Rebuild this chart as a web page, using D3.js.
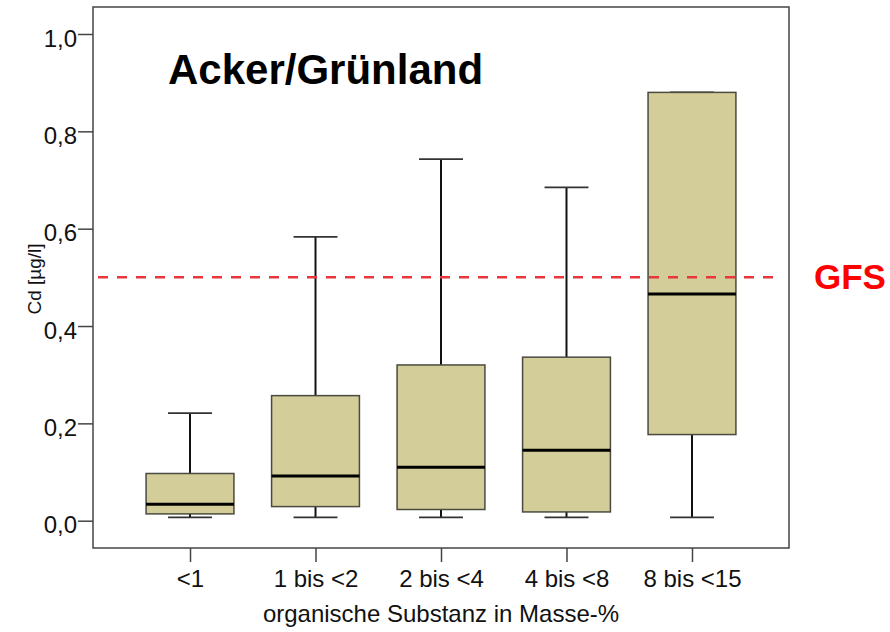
<!DOCTYPE html>
<html lang="de">
<head>
  <meta charset="UTF-8">
  <title>Cd Boxplot</title>
  <script src="https://d3js.org/d3.v7.min.js"></script>
  <style>
    body { margin: 0; background: white; }
    svg text { font-family: "Liberation Sans", Arial, sans-serif; }
    .tick-label { font-size: 24px; fill: #111; }
    .axis-title { font-size: 24px; fill: #111; }
  </style>
</head>
<body>
<div id="chart"></div>
<script>
  // categories and box statistics
  const categories = ["<1", "1 bis <2", "2 bis <4", "4 bis <8", "8 bis <15"];
  const whiskerLow = [0.007, 0.007, 0.007, 0.007, 0.007];
  const q1 = [0.014, 0.029, 0.023, 0.018, 0.177];
  const median = [0.034, 0.092, 0.110, 0.145, 0.466];
  const q3 = [0.097, 0.257, 0.320, 0.336, 0.880];
  const whiskerHigh = [0.221, 0.583, 0.743, 0.685, 0.880];
  const yTicks = [0, 0.2, 0.4, 0.6, 0.8, 1.0];
  const gfsValue = 0.5;

  const width = 890, height = 632;
  const plotLeft = 93, plotRight = 789, plotTop = 7, plotBottom = 548;

  const svg = d3.select("#chart").append("svg")
    .attr("width", width)
    .attr("height", height);

  const x = d3.scalePoint()
    .domain(categories)
    .range([plotLeft, plotRight])
    .padding(0.773);

  const y = d3.scaleLinear()
    .domain([0, 1])
    .range([520.7, 34]);

  const boxW = x.step() * 0.7;
  const capW = boxW / 2;

  const boxes = categories.map((c, i) => ({
    cat: c, lo: whiskerLow[i], q1: q1[i], med: median[i], q3: q3[i], hi: whiskerHigh[i]
  }));

  // frame
  svg.append("rect")
    .attr("x", plotLeft)
    .attr("y", plotTop)
    .attr("width", plotRight - plotLeft)
    .attr("height", plotBottom - plotTop)
    .attr("fill", "none")
    .attr("stroke", "#444")
    .attr("stroke-width", 1.5);

  // y axis
  const yAxis = svg.append("g")
    .attr("transform", `translate(${plotLeft},0)`)
    .call(d3.axisLeft(y).tickValues(yTicks).tickSize(15).tickPadding(1)
      .tickFormat(d => d3.format(".1f")(d).replace(".", ",")));
  yAxis.select(".domain").remove();
  yAxis.selectAll(".tick line").attr("stroke", "#444").attr("stroke-width", 1.5);
  yAxis.selectAll(".tick text").attr("class", "tick-label").attr("font-size", null).attr("font-family", null)
    .attr("dy", "0.5em");

  // x axis
  const xAxis = svg.append("g")
    .attr("transform", `translate(0,${plotBottom})`)
    .call(d3.axisBottom(x).tickSize(14).tickPadding(8));
  xAxis.select(".domain").remove();
  xAxis.selectAll(".tick line").attr("stroke", "#444").attr("stroke-width", 1.5);
  xAxis.selectAll(".tick text").attr("class", "tick-label").attr("font-size", null).attr("font-family", null);

  // axis titles
  svg.append("text")
    .attr("class", "axis-title")
    .attr("x", (plotLeft + plotRight) / 2)
    .attr("y", 622)
    .attr("text-anchor", "middle")
    .text("organische Substanz in Masse-%");

  svg.append("text")
    .attr("transform", "translate(41,279) rotate(-90)")
    .attr("text-anchor", "middle")
    .attr("font-size", "19px")
    .attr("fill", "#111")
    .text("Cd [µg/l]");

  // boxes
  const g = svg.append("g");
  const item = g.selectAll("g.box").data(boxes).enter().append("g").attr("class", "box");

  // whiskers
  item.append("line")
    .attr("x1", d => x(d.cat)).attr("x2", d => x(d.cat))
    .attr("y1", d => y(d.hi)).attr("y2", d => y(d.q3))
    .attr("stroke", "#111").attr("stroke-width", 2);
  item.append("line")
    .attr("x1", d => x(d.cat)).attr("x2", d => x(d.cat))
    .attr("y1", d => y(d.q1)).attr("y2", d => y(d.lo))
    .attr("stroke", "#111").attr("stroke-width", 2);
  item.append("line")
    .attr("x1", d => x(d.cat) - capW / 2).attr("x2", d => x(d.cat) + capW / 2)
    .attr("y1", d => y(d.hi)).attr("y2", d => y(d.hi))
    .attr("stroke", "#333").attr("stroke-width", 1.8);
  item.append("line")
    .attr("x1", d => x(d.cat) - capW / 2).attr("x2", d => x(d.cat) + capW / 2)
    .attr("y1", d => y(d.lo)).attr("y2", d => y(d.lo))
    .attr("stroke", "#333").attr("stroke-width", 1.8);

  item.append("rect")
    .attr("x", d => x(d.cat) - boxW / 2)
    .attr("y", d => y(d.q3))
    .attr("width", boxW)
    .attr("height", d => y(d.q1) - y(d.q3))
    .attr("fill", "#d3ce99")
    .attr("stroke", "#4a4a40")
    .attr("stroke-width", 1.5);

  item.append("line")
    .attr("x1", d => x(d.cat) - boxW / 2).attr("x2", d => x(d.cat) + boxW / 2)
    .attr("y1", d => y(d.med)).attr("y2", d => y(d.med))
    .attr("stroke", "#000").attr("stroke-width", 3);

  // GFS reference line
  svg.append("line")
    .attr("x1", plotLeft + 5).attr("x2", plotRight - 9)
    .attr("y1", y(gfsValue)).attr("y2", y(gfsValue))
    .attr("stroke", "#e8363c")
    .attr("stroke-width", 2.5)
    .attr("stroke-dasharray", "10,9");

  svg.append("text")
    .attr("x", 814)
    .attr("y", y(gfsValue) + 12)
    .attr("font-size", "35px")
    .attr("font-weight", "bold")
    .attr("fill", "#ff0000")
    .text("GFS");

  // title
  svg.append("text")
    .attr("x", 168)
    .attr("y", 84)
    .attr("font-size", "42px")
    .attr("font-weight", "bold")
    .attr("fill", "#000")
    .text("Acker/Grünland");
</script>
</body>
</html>
